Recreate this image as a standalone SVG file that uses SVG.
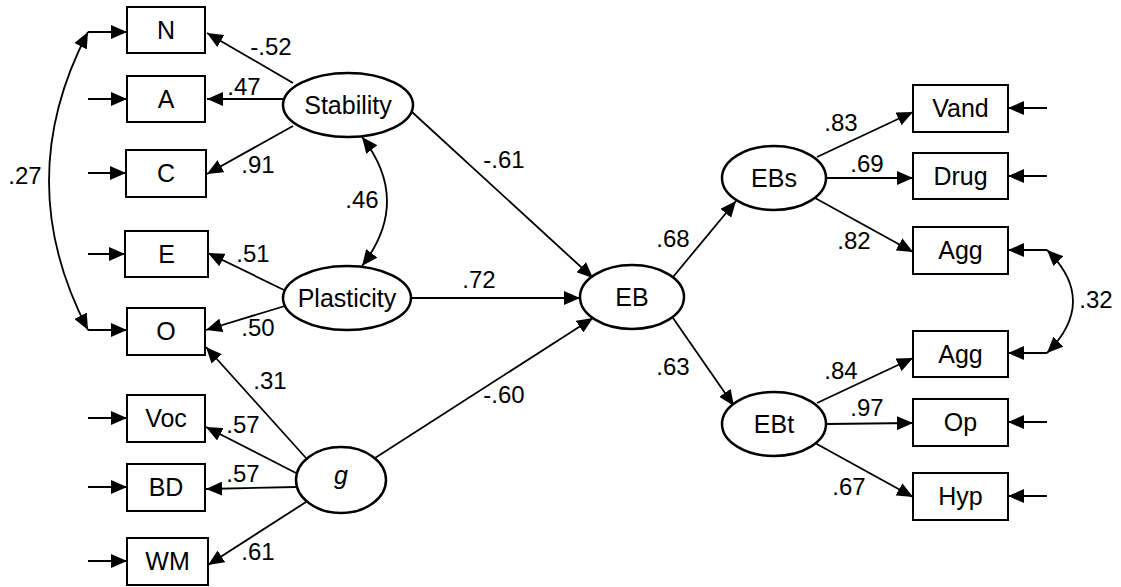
<svg xmlns="http://www.w3.org/2000/svg" width="1121" height="587" viewBox="0 0 1121 587">
<style>
.box{fill:#fff;stroke:#000;stroke-width:2}
.ell{fill:#fff;stroke:#000;stroke-width:2.5}
.t{font-family:"Liberation Sans",Arial,sans-serif;font-size:25px;fill:#000;text-anchor:middle}
.lb{font-family:"Liberation Sans",Arial,sans-serif;font-size:24px;fill:#000;text-anchor:middle}
.c{fill:none;stroke:#000;stroke-width:1.8;marker-end:url(#ah)}
.cc{fill:none;stroke:#000;stroke-width:1.8;marker-start:url(#ah);marker-end:url(#ah)}
</style>
<defs>
<marker id="ah" markerUnits="userSpaceOnUse" markerWidth="16" markerHeight="14" refX="16" refY="7" orient="auto-start-reverse" viewBox="0 0 16 14">
<path d="M0,0 L16,7 L0,14 z" fill="#000"/>
</marker>
</defs>
<rect width="1121" height="587" fill="#fff"/>
<g id="connectors">
<line class="c" x1="88" y1="32" x2="127" y2="32"/>
<line class="c" x1="88" y1="99" x2="127" y2="99"/>
<line class="c" x1="88" y1="173" x2="126" y2="173"/>
<line class="c" x1="88" y1="254" x2="125" y2="254"/>
<line class="c" x1="88" y1="330" x2="127" y2="330"/>
<line class="c" x1="88" y1="418" x2="127" y2="418"/>
<line class="c" x1="88" y1="487" x2="127" y2="487"/>
<line class="c" x1="88" y1="561" x2="127" y2="561"/>
<path class="cc" d="M88,32 Q10,181 88,330"/>
<line class="c" x1="293" y1="83" x2="207" y2="33"/>
<line class="c" x1="283" y1="99" x2="207" y2="99"/>
<line class="c" x1="293" y1="126" x2="207" y2="174"/>
<line class="c" x1="284" y1="290" x2="208" y2="253"/>
<line class="c" x1="285" y1="306" x2="206" y2="330"/>
<path class="cc" d="M362,137 Q412,201 362,266"/>
<line class="c" x1="306" y1="458" x2="206" y2="347"/>
<line class="c" x1="296" y1="473" x2="206" y2="427"/>
<line class="c" x1="296" y1="487" x2="206" y2="489"/>
<line class="c" x1="306" y1="502" x2="208" y2="565"/>
<line class="c" x1="412" y1="112" x2="593" y2="278"/>
<line class="c" x1="412" y1="298" x2="580" y2="298"/>
<line class="c" x1="375" y1="458" x2="593" y2="318"/>
<line class="c" x1="673" y1="277" x2="736" y2="201"/>
<line class="c" x1="673" y1="318" x2="734" y2="406"/>
<line class="c" x1="817" y1="157" x2="913" y2="112"/>
<line class="c" x1="827" y1="178" x2="913" y2="178"/>
<line class="c" x1="815" y1="198" x2="913" y2="252"/>
<line class="c" x1="817" y1="403" x2="913" y2="358"/>
<line class="c" x1="827" y1="424" x2="913" y2="423"/>
<line class="c" x1="815" y1="443" x2="913" y2="497"/>
<line class="c" x1="1047" y1="108" x2="1008" y2="108"/>
<line class="c" x1="1047" y1="176" x2="1008" y2="176"/>
<line class="c" x1="1047" y1="250" x2="1008" y2="250"/>
<line class="c" x1="1047" y1="353" x2="1008" y2="353"/>
<line class="c" x1="1047" y1="422" x2="1008" y2="422"/>
<line class="c" x1="1047" y1="496" x2="1008" y2="496"/>
<path class="cc" d="M1047,250 Q1099,301 1047,353"/>
</g>
<g id="labels">
<text class="lb" x="271" y="55">-.52</text>
<text class="lb" x="244" y="95">.47</text>
<text class="lb" x="258" y="173">.91</text>
<text class="lb" x="25" y="184">.27</text>
<text class="lb" x="362" y="208">.46</text>
<text class="lb" x="253" y="262">.51</text>
<text class="lb" x="258" y="336">.50</text>
<text class="lb" x="270" y="389">.31</text>
<text class="lb" x="243" y="433">.57</text>
<text class="lb" x="243" y="482">.57</text>
<text class="lb" x="258" y="560">.61</text>
<text class="lb" x="504" y="168">-.61</text>
<text class="lb" x="479" y="288">.72</text>
<text class="lb" x="504" y="403">-.60</text>
<text class="lb" x="673" y="247">.68</text>
<text class="lb" x="673" y="375">.63</text>
<text class="lb" x="841" y="131">.83</text>
<text class="lb" x="867" y="172">.69</text>
<text class="lb" x="854" y="249">.82</text>
<text class="lb" x="1096" y="308">.32</text>
<text class="lb" x="841" y="379">.84</text>
<text class="lb" x="867" y="416">.97</text>
<text class="lb" x="849" y="495">.67</text>
</g>
<g id="N"><rect class="box" x="127" y="7" width="78" height="46"/><text class="t" x="166" y="39">N</text></g>
<g id="A"><rect class="box" x="127" y="76" width="78" height="46"/><text class="t" x="166" y="108">A</text></g>
<g id="C"><rect class="box" x="126" y="150" width="80" height="47"/><text class="t" x="166" y="182">C</text></g>
<g id="E"><rect class="box" x="125" y="231" width="83" height="46"/><text class="t" x="166.5" y="263">E</text></g>
<g id="O"><rect class="box" x="127" y="308" width="78" height="47"/><text class="t" x="166" y="340">O</text></g>
<g id="Voc"><rect class="box" x="127" y="395" width="78" height="47"/><text class="t" x="166" y="427">Voc</text></g>
<g id="BD"><rect class="box" x="127" y="464" width="78" height="47"/><text class="t" x="166" y="496">BD</text></g>
<g id="WM"><rect class="box" x="127" y="538" width="81" height="47"/><text class="t" x="167.5" y="570">WM</text></g>
<g id="Stability"><ellipse class="ell" cx="348" cy="105" rx="65" ry="32"/><text class="t" x="348" y="114">Stability</text></g>
<g id="Plasticity"><ellipse class="ell" cx="347" cy="298" rx="64" ry="32"/><text class="t" x="347" y="307">Plasticity</text></g>
<g id="g"><ellipse class="ell" cx="341" cy="480" rx="45" ry="33"/><text class="t" x="341" y="484" font-style="italic">g</text></g>
<g id="EB"><ellipse class="ell" cx="632" cy="297" rx="52" ry="32"/><text class="t" x="632" y="306">EB</text></g>
<g id="EBs"><ellipse class="ell" cx="774" cy="178" rx="52" ry="32"/><text class="t" x="774" y="187">EBs</text></g>
<g id="EBt"><ellipse class="ell" cx="774" cy="424" rx="52" ry="32"/><text class="t" x="774" y="433">EBt</text></g>
<g id="Vand"><rect class="box" x="913" y="85" width="95" height="47"/><text class="t" x="960.5" y="117">Vand</text></g>
<g id="Drug"><rect class="box" x="913" y="153" width="95" height="46"/><text class="t" x="960.5" y="185">Drug</text></g>
<g id="Agg1"><rect class="box" x="913" y="227" width="95" height="47"/><text class="t" x="960.5" y="259">Agg</text></g>
<g id="Agg2"><rect class="box" x="913" y="331" width="95" height="46"/><text class="t" x="960.5" y="363">Agg</text></g>
<g id="Op"><rect class="box" x="913" y="399" width="95" height="47"/><text class="t" x="960.5" y="431">Op</text></g>
<g id="Hyp"><rect class="box" x="913" y="473" width="95" height="47"/><text class="t" x="960.5" y="505">Hyp</text></g>
</svg>
